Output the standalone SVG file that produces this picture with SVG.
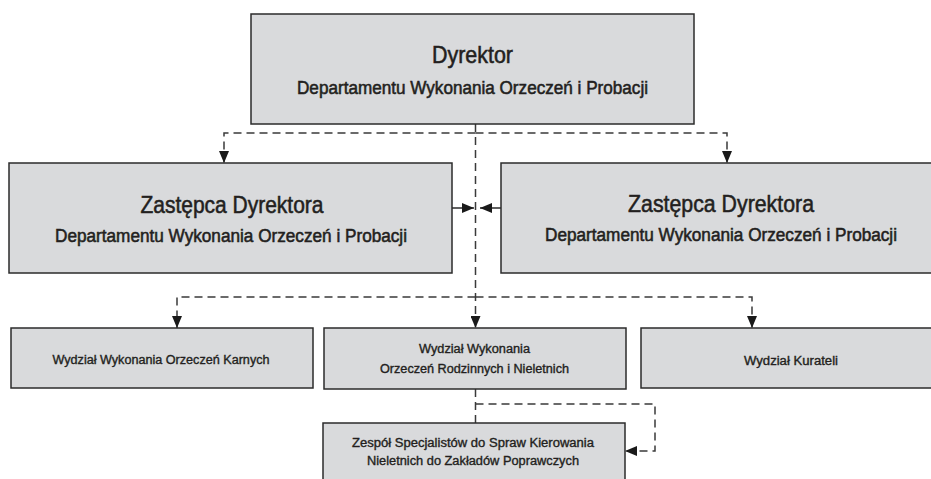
<svg xmlns="http://www.w3.org/2000/svg" width="931" height="479" viewBox="0 0 931 479">
<style>
.box{fill:#d9dadc;stroke:#2b2b2b;stroke-width:1.5}
.t{font-family:"Liberation Sans",Arial,sans-serif;fill:#231f20;stroke:#231f20;stroke-width:0.55;text-anchor:middle}
.big{font-size:24px}
.mid{font-size:18px}
.sm{font-size:12px;stroke-width:0.35}
.dash{fill:none;stroke:#3a3a3a;stroke-width:1.5;stroke-dasharray:8 5}
.solid{fill:none;stroke:#2b2b2b;stroke-width:1.5}
</style>
<defs>
<marker id="ah" markerUnits="userSpaceOnUse" markerWidth="12" markerHeight="10" refX="12" refY="5" orient="auto" viewBox="0 0 12 10">
<path d="M0,0 L12,5 L0,10 z" fill="#1a1a1a"/>
</marker>
</defs>
<g id="connectors">
<path class="dash" d="M475.5,124 V328" marker-end="url(#ah)"/>
<path class="dash" d="M475.5,133 H224 V163" marker-end="url(#ah)"/>
<path class="dash" d="M475.5,133 H727 V163" marker-end="url(#ah)"/>
<path class="solid" d="M452,208 H474" marker-end="url(#ah)"/>
<path class="solid" d="M501,208 H480" marker-end="url(#ah)"/>
<path class="dash" d="M475.5,297 H177 V328" marker-end="url(#ah)"/>
<path class="dash" d="M475.5,297 H752 V328" marker-end="url(#ah)"/>
<path class="dash" d="M475.5,389 V423"/>
<path class="dash" d="M475.5,404 H655 V451 H625" marker-end="url(#ah)"/>
</g>
<g id="dyrektor">
<rect class="box" x="251" y="14" width="443" height="110"/>
<text class="t big" x="472.5" y="63" textLength="81" lengthAdjust="spacingAndGlyphs">Dyrektor</text>
<text class="t mid" x="472.5" y="94" textLength="351" lengthAdjust="spacingAndGlyphs">Departamentu Wykonania Orzeczeń i Probacji</text>
</g>
<g id="zastepca-lewy">
<rect class="box" x="9" y="163" width="443" height="110"/>
<text class="t big" x="232" y="213" textLength="183" lengthAdjust="spacingAndGlyphs">Zastępca Dyrektora</text>
<text class="t mid" x="231" y="242" textLength="352" lengthAdjust="spacingAndGlyphs">Departamentu Wykonania Orzeczeń i Probacji</text>
</g>
<g id="zastepca-prawy">
<rect class="box" x="501" y="163" width="431" height="110"/>
<text class="t big" x="721" y="212" textLength="186" lengthAdjust="spacingAndGlyphs">Zastępca Dyrektora</text>
<text class="t mid" x="721" y="241" textLength="352" lengthAdjust="spacingAndGlyphs">Departamentu Wykonania Orzeczeń i Probacji</text>
</g>
<g id="wydzial-karny">
<rect class="box" x="11" y="328" width="302" height="60"/>
<text class="t sm" x="161" y="364" textLength="217" lengthAdjust="spacingAndGlyphs">Wydział Wykonania Orzeczeń Karnych</text>
</g>
<g id="wydzial-rodzinny">
<rect class="box" x="324" y="328" width="302" height="61"/>
<text class="t sm" x="474.5" y="353" textLength="111" lengthAdjust="spacingAndGlyphs">Wydział Wykonania</text>
<text class="t sm" x="474.5" y="373" textLength="189" lengthAdjust="spacingAndGlyphs">Orzeczeń Rodzinnych i Nieletnich</text>
</g>
<g id="wydzial-kurateli">
<rect class="box" x="641" y="328" width="291" height="60"/>
<text class="t sm" x="791" y="365" textLength="94" lengthAdjust="spacingAndGlyphs">Wydział Kurateli</text>
</g>
<g id="zespol">
<rect class="box" x="323" y="423" width="302" height="57"/>
<text class="t sm" x="473" y="447" textLength="242" lengthAdjust="spacingAndGlyphs">Zespół Specjalistów do Spraw Kierowania</text>
<text class="t sm" x="473" y="465" textLength="212" lengthAdjust="spacingAndGlyphs">Nieletnich do Zakładów Poprawczych</text>
</g>
</svg>
